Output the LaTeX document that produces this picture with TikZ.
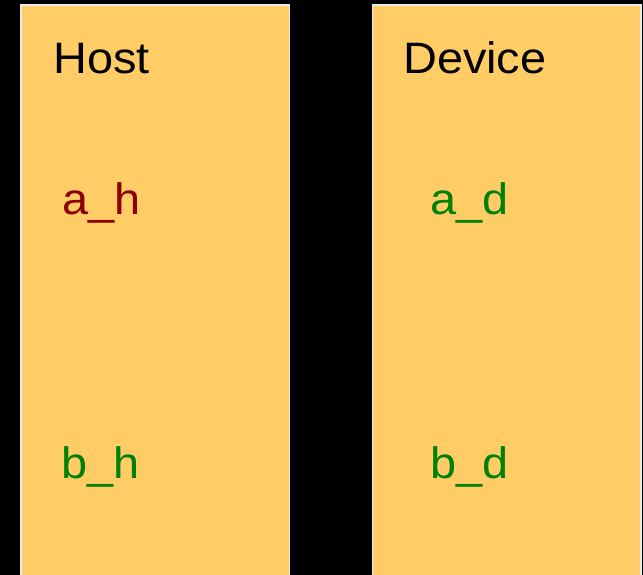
\documentclass[tikz,border=0pt]{standalone}
\usepackage{fontspec}
\setmainfont{Liberation Sans}
\newfontfamily\lblfont[FakeStretch=1.065]{Liberation Sans}
\definecolor{boxfill}{HTML}{FFCC66}
\definecolor{hostred}{HTML}{8B0000}
\definecolor{devgreen}{HTML}{008000}
\begin{document}
\begin{tikzpicture}[x=1pt,y=-1pt,
  panel/.style={fill=boxfill,draw=white!92!black,line width=1.5pt},
  lbl/.style={anchor=base west,inner sep=0pt,font=\lblfont\fontsize{44}{50}\selectfont},
  title/.style={lbl,text=black},
  hvar/.style={lbl,text=hostred},
  dvar/.style={lbl,text=devgreen}]
\fill[black] (0,0) rectangle (643,575);
\useasboundingbox (0,0) rectangle (643,575);
\clip (0,0) rectangle (643,575);
\path[panel] (21,5) rectangle (289.5,590);
\path[panel] (372.5,5) rectangle (641,590);
\node[title] (host) at (53,73.3) {Host};
\node[title] (device) at (403,73.3) {Device};
\node[hvar] (ah) at (62,214.3) {a\_h};
\node[dvar] (bh) at (61,478.3) {b\_h};
\node[dvar] (ad) at (430,214.3) {a\_d};
\node[dvar] (bd) at (430,478.3) {b\_d};
\end{tikzpicture}
\end{document}
